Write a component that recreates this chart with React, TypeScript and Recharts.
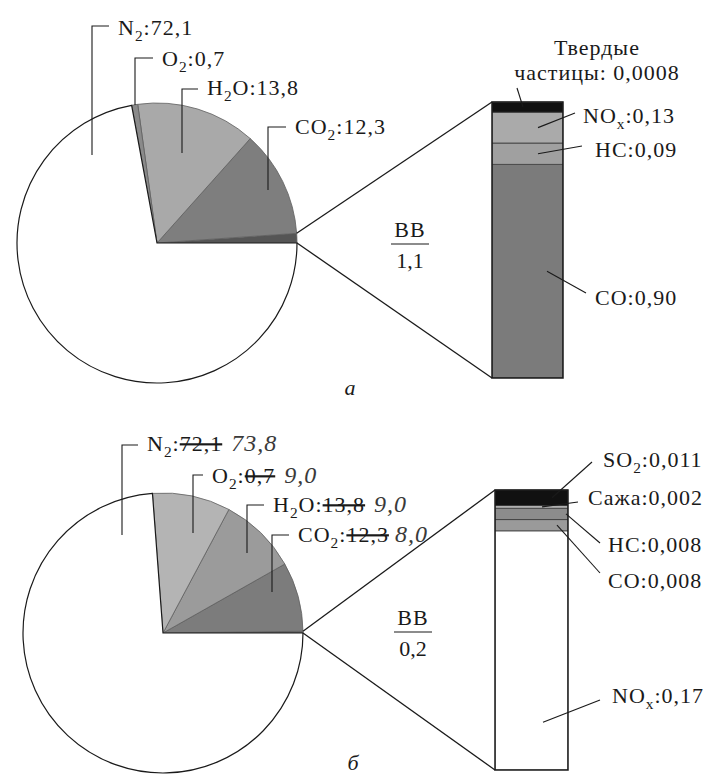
import React from "react";
import { PieChart, Pie, Cell, BarChart, Bar, XAxis, YAxis } from "recharts";

const FONT = "'Liberation Serif', 'Times New Roman', serif";
const INK = "#1a1a1a";
const SIZE = 22;

// состав отработавших газов, % об.
const gasNames = ["ВВ", "CO2", "H2O", "O2", "N2"];
const gasA = [1.1, 12.3, 13.8, 0.7, 72.1];
const gasB = [0.2, 8.0, 9.0, 9.0, 73.8];

// вредные вещества (ВВ), снизу вверх по столбику
const toxNamesA = ["CO", "HC", "NOx", "Твердые частицы"];
const toxA = [0.9, 0.09, 0.13, 0.0008];
const toxDigitsA = [2, 2, 2, 4];

const toxNamesB = ["NOx", "CO", "HC", "Сажа", "SO2"];
const toxB = [0.17, 0.008, 0.008, 0.002, 0.011];
const toxDigitsB = [2, 3, 3, 3, 3];

const gasFillA = ["#555555", "#7e7e7e", "#a9a9a9", "#8a8a8a", "#ffffff"];
const gasFillB = ["#5a5a5a", "#7c7c7c", "#9b9b9b", "#b4b4b4", "#ffffff"];
const toxFillA = ["#7b7b7b", "#a0a0a0", "#aaaaaa", "#111111"];
const toxFillB = ["#ffffff", "#9a9a9a", "#8c8c8c", "#b0b0b0", "#111111"];

const R = 140;
const PIE_A = { cx: 157, cy: 243 };
const PIE_B = { cx: 163, cy: 633 };
const BAR_A = { x: 492, y: 112, w: 71, h: 266 };
const BAR_B = { x: 495, y: 490, w: 73, h: 280 };
const SOLID_MIN = 10; // твердые частицы иначе не видны

// [textX, baseline, bracketX, bracketY, tipY]
const gasLayoutA: Record<string, number[]> = {
  N2: [118, 35, 92, 26, 155],
  O2: [162, 66, 135, 58, 105],
  H2O: [207, 95, 182, 89, 153],
  CO2: [295, 134, 268, 127, 190],
};
const gasLayoutB: Record<string, number[]> = {
  N2: [147, 451, 122, 445, 535],
  O2: [212, 483, 193, 475, 533],
  H2O: [273, 512, 247, 505, 553],
  CO2: [298, 542, 272, 535, 592],
};
// [textX, baseline, leaderX, leaderY, tipX, position inside segment]
const toxLayoutA: Record<string, number[]> = {
  CO: [595, 305, 586, 293, 547, 0.5],
  HC: [595, 157, 582, 146, 538, 0.5],
  NOx: [583, 123, 575, 113, 538, 0.5],
};
const toxLayoutB: Record<string, number[]> = {
  NOx: [612, 703, 600, 700, 543, 0.2],
  CO: [608, 588, 600, 573, 557, 0.5],
  HC: [608, 552, 600, 543, 566, 0.5],
  Сажа: [588, 505, 578, 502, 542, 0.5],
  SO2: [603, 467, 592, 462, 552, 0.5],
};

const sum = (a: number[]) => a.reduce((s, v) => s + v, 0);
const fmt = (v: number, d: number) => v.toFixed(d).replace(".", ",");

type Part = { t: string; sub?: boolean; strike?: boolean; hand?: boolean; dx?: number };

function chem(name: string): Part[] {
  const out: Part[] = [];
  let prev = "";
  for (const ch of name) {
    const sub = /\d/.test(ch) || (ch === "x" && /[A-Z]/.test(prev));
    const last = out[out.length - 1];
    if (last && !!last.sub === sub) last.t += ch;
    else out.push({ t: ch, sub });
    prev = ch;
  }
  return out;
}

function Rich({ x, y, parts, anchor = "start" }: { x: number; y: number; parts: Part[]; anchor?: string }) {
  let shift = 0;
  return (
    <text x={x} y={y} textAnchor={anchor} fontFamily={FONT} fontSize={SIZE} fill={INK} letterSpacing={1}>
      {parts.map((p, i) => {
        const want = p.sub ? SIZE * 0.28 : 0;
        const dy = want - shift;
        shift = want;
        return (
          <tspan
            key={i}
            dy={dy || undefined}
            dx={p.dx}
            fontSize={p.sub ? SIZE * 0.7 : p.hand ? SIZE + 2 : undefined}
            fontStyle={p.hand ? "italic" : undefined}
            fill={p.hand ? "#3a3a3a" : undefined}
            style={p.strike ? { textDecoration: "line-through" } : undefined}
          >
            {p.t}
          </tspan>
        );
      })}
    </text>
  );
}

function GasPie({ values, fills, center, top }: { values: number[]; fills: string[]; center: { cx: number; cy: number }; top: number }) {
  const data = gasNames.map((name, i) => ({ name, value: values[i] }));
  return (
    <div style={{ position: "absolute", left: 0, top, width: 330, height: 390 }}>
      <PieChart width={330} height={390} margin={{ top: 0, right: 0, bottom: 0, left: 0 }}>
        <Pie
          data={data}
          dataKey="value"
          cx={center.cx}
          cy={center.cy - top}
          outerRadius={R}
          startAngle={0}
          endAngle={360}
          isAnimationActive={false}
        >
          {data.map((d, i) => (
            <Cell
              key={d.name}
              fill={fills[i]}
              stroke={d.name === "N2" ? INK : "#5f5f5f"}
              strokeWidth={d.name === "N2" ? 1.2 : 0.8}
            />
          ))}
        </Pie>
      </PieChart>
    </div>
  );
}

function ToxBar({ names, values, fills, box, pad, minTop }: {
  names: string[]; values: number[]; fills: string[];
  box: { x: number; y: number; w: number; h: number }; pad: number; minTop: number;
}) {
  const row: Record<string, string | number> = { name: "ВВ" };
  names.forEach((_, i) => (row[`s${i}`] = values[i]));
  return (
    <div style={{ position: "absolute", left: box.x, top: box.y - pad }}>
      <BarChart
        width={box.w}
        height={box.h + pad}
        data={[row]}
        margin={{ top: pad, right: 0, bottom: 0, left: 0 }}
        barCategoryGap={0}
      >
        <XAxis dataKey="name" hide />
        <YAxis type="number" domain={[0, sum(values)]} hide />
        {names.map((n, i) => (
          <Bar
            key={n}
            dataKey={`s${i}`}
            stackId="v"
            fill={fills[i]}
            stroke="#3a3a3a"
            strokeWidth={0.8}
            minPointSize={i === names.length - 1 ? minTop : 0}
            isAnimationActive={false}
          />
        ))}
      </BarChart>
    </div>
  );
}

// y of a point inside segment i, t=0 bottom, t=1 top
function segY(values: number[], i: number, t: number, box: { y: number; h: number }) {
  const total = sum(values);
  const lo = sum(values.slice(0, i));
  const v = lo + values[i] * t;
  return box.y + box.h * (1 - v / total);
}

function Connectors({ values, center, box, extra }: {
  values: number[]; center: { cx: number; cy: number };
  box: { x: number; y: number; w: number; h: number }; extra: number;
}) {
  const a = (values[0] / sum(values)) * 2 * Math.PI;
  const x1 = center.cx + R * Math.cos(a);
  const y1 = center.cy - R * Math.sin(a);
  return (
    <g stroke={INK} strokeWidth={1.3} fill="none">
      <line x1={x1} y1={y1} x2={box.x} y2={box.y - extra} />
      <line x1={center.cx + R} y1={center.cy} x2={box.x} y2={box.y + box.h} />
      <rect x={box.x} y={box.y - extra} width={box.w} height={box.h + extra} strokeWidth={1.5} />
    </g>
  );
}

function Fraction({ x, y, value }: { x: number; y: number; value: string }) {
  return (
    <g fontFamily={FONT} fontSize={SIZE} fill={INK} textAnchor="middle">
      <text x={x} y={y} letterSpacing={1}>ВВ</text>
      <line x1={x - 19} x2={x + 19} y1={y + 7} y2={y + 7} stroke={INK} strokeWidth={1.2} />
      <text x={x} y={y + 31}>{value}</text>
    </g>
  );
}

function Bracket({ l }: { l: number[] }) {
  const [tx, , bx, by, tip] = l;
  return <polyline points={`${tx - 9},${by} ${bx},${by} ${bx},${tip}`} fill="none" stroke={INK} strokeWidth={1.1} />;
}

function Overlay() {
  return (
    <svg width={711} height={778} style={{ position: "absolute", left: 0, top: 0, pointerEvents: "none" }}>
      {/* а */}
      <Connectors values={gasA} center={PIE_A} box={BAR_A} extra={SOLID_MIN} />
      {gasNames.slice(1).map((n) => {
        const l = gasLayoutA[n];
        const i = gasNames.indexOf(n);
        return (
          <g key={n}>
            <Bracket l={l} />
            <Rich x={l[0]} y={l[1]} parts={[...chem(n), { t: ":" + fmt(gasA[i], 1) }]} />
          </g>
        );
      })}
      <Fraction x={410} y={237} value={fmt(gasA[0], 1)} />
      {toxNamesA.slice(0, 3).map((n, i) => {
        const l = toxLayoutA[n];
        return (
          <g key={n}>
            <line x1={l[2]} y1={l[3]} x2={l[4]} y2={segY(toxA, i, l[5], BAR_A)} stroke={INK} strokeWidth={1.1} />
            <Rich x={l[0]} y={l[1]} parts={[...chem(n), { t: ":" + fmt(toxA[i], toxDigitsA[i]) }]} />
          </g>
        );
      })}
      {(() => {
        const [w1, w2] = toxNamesA[3].split(" ");
        return (
          <g>
            <Rich x={597} y={55} anchor="middle" parts={[{ t: w1 }]} />
            <Rich x={597} y={80} anchor="middle" parts={[{ t: `${w2}: ${fmt(toxA[3], toxDigitsA[3])}` }]} />
            <line x1={517} y1={88} x2={523} y2={BAR_A.y - SOLID_MIN / 2} stroke={INK} strokeWidth={1.1} />
          </g>
        );
      })()}
      <text x={350} y={395} fontFamily={FONT} fontSize={SIZE} fontStyle="italic" fill={INK} textAnchor="middle">а</text>

      {/* б */}
      <Connectors values={gasB} center={PIE_B} box={BAR_B} extra={0} />
      {gasNames.slice(1).map((n) => {
        const l = gasLayoutB[n];
        const i = gasNames.indexOf(n);
        const shift = n === "CO2" ? 6 : 9;
        return (
          <g key={n}>
            <Bracket l={l} />
            <Rich
              x={l[0]}
              y={l[1]}
              parts={[
                ...chem(n),
                { t: ":" },
                { t: fmt(gasA[i], 1), strike: true },
                { t: fmt(gasB[i], 1), hand: true, dx: shift },
              ]}
            />
          </g>
        );
      })}
      <Fraction x={413} y={625} value={fmt(gasB[0], 1)} />
      {toxNamesB.map((n, i) => {
        const l = toxLayoutB[n];
        return (
          <g key={n}>
            <line x1={l[2]} y1={l[3]} x2={l[4]} y2={segY(toxB, i, l[5], BAR_B)} stroke={INK} strokeWidth={1.1} />
            <Rich x={l[0]} y={l[1]} parts={[...chem(n), { t: ":" + fmt(toxB[i], toxDigitsB[i]) }]} />
          </g>
        );
      })}
      <text x={353} y={770} fontFamily={FONT} fontSize={SIZE} fontStyle="italic" fill={INK} textAnchor="middle">б</text>
    </svg>
  );
}

export default function App() {
  return (
    <div style={{ position: "absolute", left: 0, top: 0, width: 711, height: 778, background: "#fff", overflow: "hidden" }}>
      <GasPie values={gasA} fills={gasFillA} center={PIE_A} top={0} />
      <GasPie values={gasB} fills={gasFillB} center={PIE_B} top={388} />
      <ToxBar names={toxNamesA} values={toxA} fills={toxFillA} box={BAR_A} pad={12} minTop={SOLID_MIN} />
      <ToxBar names={toxNamesB} values={toxB} fills={toxFillB} box={BAR_B} pad={4} minTop={0} />
      <Overlay />
    </div>
  );
}
